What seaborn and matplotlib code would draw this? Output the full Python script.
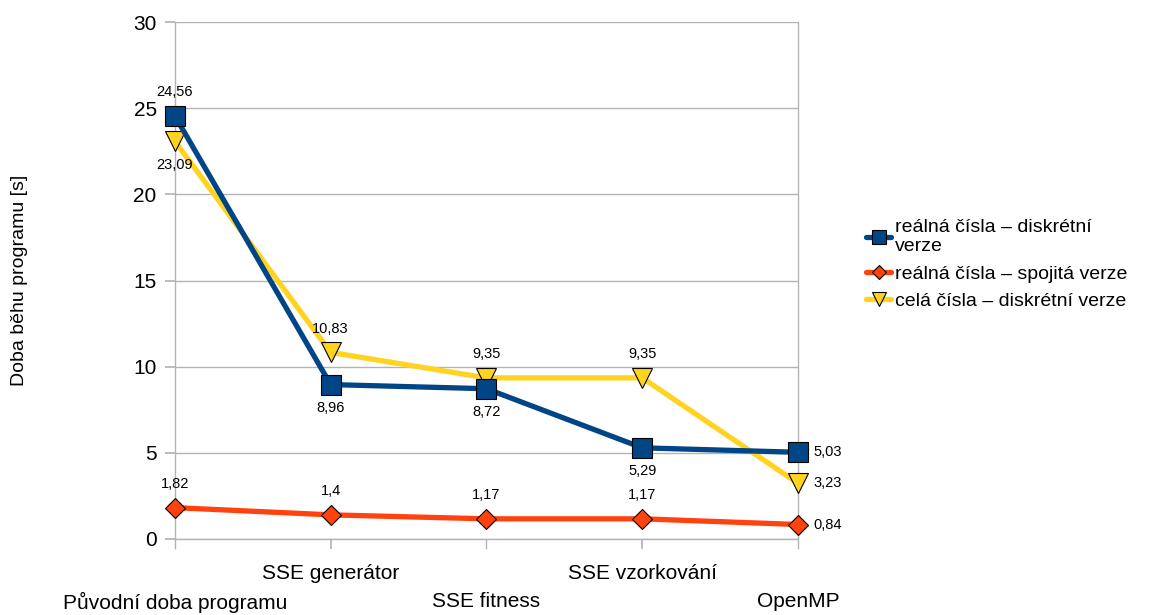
import matplotlib
matplotlib.use("Agg")
import matplotlib.pyplot as plt
import seaborn as sns
import pandas as pd
from matplotlib.lines import Line2D

categories = ["Původní doba programu", "SSE generátor", "SSE fitness",
              "SSE vzorkování", "OpenMP"]
series_names = ["reálná čísla – diskrétní\nverze",
                "reálná čísla – spojitá verze",
                "celá čísla – diskrétní verze"]
real_discrete = [24.56, 8.96, 8.72, 5.29, 5.03]
real_continuous = [1.82, 1.4, 1.17, 1.17, 0.84]
int_discrete = [23.09, 10.83, 9.35, 9.35, 3.23]

colors = ["#004586", "#ff420e", "#ffd320"]
markers = ["s", "D", "v"]
msizes = [14, 10, 14]
label_pos = ["below", "above", "above"]

sns.set_theme(style="white")
plt.rcParams["font.family"] = ["Liberation Sans", "DejaVu Sans"]
plt.rcParams["text.color"] = "black"
plt.rcParams["axes.labelcolor"] = "black"
plt.rcParams["xtick.color"] = "black"
plt.rcParams["ytick.color"] = "black"

fig = plt.figure(figsize=(11.5, 6.15), dpi=100)
ax = fig.add_axes([0.152, 0.1236, 0.542, 0.8406])

all_vals = [real_discrete, real_continuous, int_discrete]
for i, vals in enumerate(all_vals):
    df = pd.DataFrame({"x": range(len(categories)), "y": vals})
    sns.lineplot(data=df, x="x", y="y", ax=ax, color=colors[i], lw=3.8,
                 marker=markers[i], markersize=msizes[i],
                 markeredgecolor="black", markeredgewidth=0.8,
                 zorder=3 + (i == 0), clip_on=False)


def fmt(v):
    return ("%g" % v).replace(".", ",")


for i, vals in enumerate(all_vals):
    for j, v in enumerate(vals):
        if j == len(vals) - 1:
            ax.annotate(fmt(v), (j, v), xytext=(11, 0), textcoords="offset points",
                        ha="left", va="center", fontsize=10.5)
            continue
        pos = label_pos[i]
        if i == 0 and j == 0:
            pos = "above"
        if i == 2 and j == 0:
            pos = "below"
        dy = 12 if pos == "above" else -12
        ax.annotate(fmt(v), (j, v), xytext=(0, dy), textcoords="offset points",
                    ha="center", va="bottom" if pos == "above" else "top",
                    fontsize=10.5)

ax.set_xlim(0, 4)
ax.set_ylim(0, 30)
ax.set_yticks(range(0, 31, 5))
# staggered category labels: odd ones on the upper row, even ones lower
ax.set_xticks([1, 3], labels=[categories[1], categories[3]])
ax.set_xticks([0, 2, 4], labels=[categories[0], categories[2], categories[4]],
              minor=True)
ax.tick_params(axis="both", which="both", length=7, color="#b3b3b3",
               labelsize=15, direction="out", bottom=True, left=True)
ax.tick_params(axis="x", which="major", pad=11)
ax.tick_params(axis="x", which="minor", pad=31)
ax.tick_params(axis="y", pad=6)
ax.grid(axis="y", which="major", color="#b3b3b3", lw=1)
ax.grid(axis="x", which="both", visible=False)
ax.spines["top"].set_visible(False)
for s in ["left", "right", "bottom"]:
    ax.spines[s].set_color("#b3b3b3")
    ax.spines[s].set_linewidth(1)
ax.set_xlabel("")
ax.set_ylabel("Doba běhu programu [s]", fontsize=14)
ax.yaxis.set_label_coords(-0.236, 0.5)

handles = [Line2D([], [], color=colors[i], lw=3.8, marker=markers[i],
                  markersize=msizes[i] * 0.75, markeredgecolor="black",
                  markeredgewidth=0.8) for i in range(3)]
fig.legend(handles, series_names, loc="center left",
           bbox_to_anchor=(0.738, 0.57), frameon=False, fontsize=14,
           handlelength=1.3, handletextpad=0.2, labelspacing=0.5)

fig.savefig("out.png", dpi=100)
